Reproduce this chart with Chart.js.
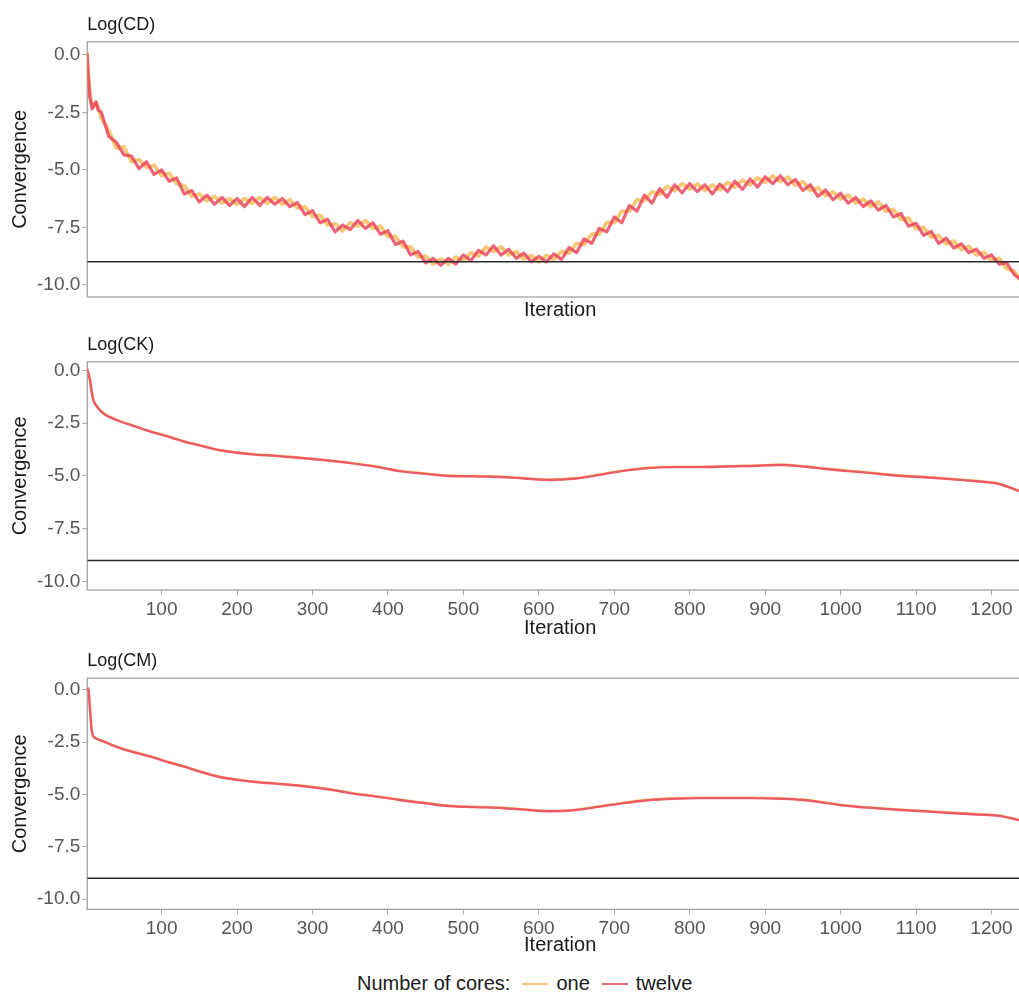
<!DOCTYPE html>
<html>
<head>
<meta charset="utf-8">
<script src="https://cdn.jsdelivr.net/npm/chart.js@4.4.0/dist/chart.umd.min.js"></script>
<style>
  html, body { margin: 0; padding: 0; background: #fff; overflow: hidden; }
  body { width: 1019px; height: 993px; position: relative; font-family: "Liberation Sans", Arial, sans-serif; }
  canvas { position: absolute; left: 0; }
  #legend { position: absolute; left: 357px; top: 972px; display: flex; align-items: center; font-size: 20px; color: #1a1a1a; white-space: nowrap; }
  #legend .key { display: inline-block; width: 26px; height: 2px; margin: 0 8px 0 12px; }
</style>
</head>
<body>
<canvas id="cd" width="1034" height="322" style="top:0"></canvas>
<canvas id="ck" width="1034" height="318" style="top:322px"></canvas>
<canvas id="cm" width="1034" height="317" style="top:640px"></canvas>
<div id="legend">
  <span>Number of cores:</span>
  <span class="key" id="key-one"></span><span>one</span>
  <span class="key" id="key-twelve"></span><span>twelve</span>
</div>
<script>
const THRESHOLD = -9;
const X_MIN = 1.5, X_MAX = 1255;
const xTicks = [100, 200, 300, 400, 500, 600, 700, 800, 900, 1000, 1100, 1200];
const yTicks = [0, -2.5, -5, -7.5, -10];

const ONE_COLOR = 'rgba(244, 192, 96, 0.85)';
const TWELVE_COLOR = 'rgba(232, 66, 90, 0.82)';

// Log(CD): early iterations, then every 10 iterations
const cdIter = [1, 3, 5, 8, 10, 13, 16];
for (let i = 20; i <= 1240; i += 10) cdIter.push(i);

const cdOne = [
  0.1, -0.9, -1.8, -2.25, -2.25, -2.1, -2.3,
  -2.75, -3.3, -4.05, -4.0, -4.65, -4.55, -4.9, -4.8, -5.25, -5.15,
  -5.6, -5.7, -6.15, -6.05, -6.35, -6.15, -6.45, -6.25, -6.5, -6.25,
  -6.45, -6.2, -6.45, -6.2, -6.5, -6.3, -6.67, -6.6, -7.03, -6.97,
  -7.4, -7.35, -7.65, -7.3, -7.45, -7.2, -7.55, -7.45, -7.9, -7.9,
  -8.35, -8.35, -8.8, -8.75, -9.1, -8.88, -9.1, -8.8, -8.95, -8.6,
  -8.75, -8.35, -8.55, -8.35, -8.7, -8.55, -8.87, -8.72, -9.0, -8.72,
  -8.9, -8.55, -8.63, -8.2, -8.25, -7.8, -7.8, -7.3, -7.3, -6.8,
  -6.8, -6.3, -6.35, -5.95, -6.07, -5.72, -5.9, -5.6, -5.85, -5.62,
  -5.9, -5.66, -5.87, -5.55, -5.75, -5.45, -5.65, -5.35, -5.55, -5.27,
  -5.51, -5.32, -5.67, -5.52, -5.9, -5.78, -6.13, -5.96, -6.27, -6.1,
  -6.45, -6.27, -6.6, -6.4, -6.8, -6.72, -7.15, -7.1, -7.57, -7.5,
  -7.93, -7.85, -8.22, -8.1, -8.47, -8.32, -8.7, -8.58, -8.95, -8.85,
  -9.3, -9.4, -9.85
];
const cdTwelve = [
  0.1, -1.0, -1.85, -2.35, -2.2, -2.05, -2.4,
  -2.5, -3.55, -3.8, -4.35, -4.4, -4.95, -4.65, -5.2, -5.0, -5.5,
  -5.35, -6.05, -5.9, -6.4, -6.1, -6.5, -6.2, -6.55, -6.25, -6.6,
  -6.2, -6.55, -6.2, -6.5, -6.25, -6.6, -6.42, -6.95, -6.78, -7.3,
  -7.15, -7.7, -7.4, -7.6, -7.2, -7.55, -7.3, -7.8, -7.65, -8.25,
  -8.1, -8.7, -8.55, -9.05, -8.85, -9.15, -8.85, -9.1, -8.7, -8.95,
  -8.5, -8.7, -8.3, -8.7, -8.45, -8.85, -8.62, -9.0, -8.76, -9.0,
  -8.65, -8.9, -8.38, -8.6, -8.0, -8.2, -7.55, -7.7, -7.05, -7.3,
  -6.55, -6.8, -6.1, -6.45, -5.82, -6.2, -5.65, -6.0, -5.6, -5.95,
  -5.65, -6.05, -5.62, -5.95, -5.5, -5.85, -5.4, -5.75, -5.3, -5.6,
  -5.26, -5.65, -5.42, -5.9, -5.65, -6.15, -5.88, -6.3, -6.02, -6.45,
  -6.2, -6.6, -6.35, -6.75, -6.55, -7.05, -6.9, -7.45, -7.32, -7.85,
  -7.68, -8.2, -7.97, -8.4, -8.22, -8.6, -8.45, -8.85, -8.7, -9.1,
  -9.05, -9.55, -9.8
];

// Log(CK) and Log(CM) share one iteration grid
const smoothIter = [1, 3, 5, 7, 9, 12, 15, 18, 25, 40, 60, 85, 110, 130, 150, 175, 200, 220, 250, 285,
  320, 350, 385, 415, 450, 480, 515, 550, 580, 615, 650, 680, 710, 745, 780, 815, 850, 880, 920, 950,
  980, 1010, 1045, 1080, 1110, 1145, 1180, 1210, 1236, 1255];

const ckTwelve = [0.1, -0.15, -0.45, -0.95, -1.35, -1.6, -1.75, -1.88, -2.1, -2.35, -2.6, -2.9, -3.15, -3.38, -3.55, -3.77, -3.9, -3.98, -4.05, -4.15,
  -4.27, -4.39, -4.57, -4.77, -4.9, -5.0, -5.02, -5.05, -5.12, -5.19, -5.12, -4.95, -4.77, -4.63, -4.58, -4.58, -4.55, -4.53, -4.48, -4.55,
  -4.67, -4.77, -4.88, -5.0, -5.06, -5.15, -5.25, -5.38, -5.71, -5.9];
const ckOne = [0.1, -0.12, -0.4, -0.9, -1.3, -1.57, -1.73, -1.86, -2.07, -2.33, -2.58, -2.88, -3.13, -3.36, -3.53, -3.75, -3.88, -3.96, -4.03, -4.13,
  -4.25, -4.37, -4.55, -4.75, -4.88, -4.98, -5.0, -5.03, -5.1, -5.17, -5.1, -4.93, -4.75, -4.61, -4.56, -4.56, -4.53, -4.51, -4.46, -4.53,
  -4.65, -4.75, -4.86, -4.98, -5.04, -5.13, -5.23, -5.36, -5.69, -5.88];

const cmTwelve = [0.1, 0.0, -0.9, -1.82, -2.2, -2.3, -2.36, -2.4, -2.5, -2.72, -2.95, -3.19, -3.47, -3.67, -3.9, -4.15, -4.3, -4.39, -4.48, -4.59,
  -4.75, -4.93, -5.1, -5.26, -5.42, -5.55, -5.6, -5.64, -5.72, -5.8, -5.74, -5.58, -5.42, -5.27, -5.2, -5.17, -5.17, -5.17, -5.2, -5.26,
  -5.4, -5.55, -5.65, -5.74, -5.8, -5.88, -5.95, -6.02, -6.22, -6.35];
const cmOne = [0.1, 0.02, -0.85, -1.78, -2.17, -2.28, -2.34, -2.38, -2.48, -2.7, -2.93, -3.17, -3.45, -3.65, -3.88, -4.13, -4.28, -4.37, -4.46, -4.57,
  -4.73, -4.91, -5.08, -5.24, -5.4, -5.53, -5.58, -5.62, -5.7, -5.78, -5.72, -5.56, -5.4, -5.25, -5.18, -5.15, -5.15, -5.15, -5.18, -5.24,
  -5.38, -5.53, -5.63, -5.72, -5.78, -5.86, -5.93, -6.0, -6.2, -6.33];

const FONT = '"Liberation Sans", Arial, sans-serif';
const FRAME = '#a8a8a8';

document.getElementById('key-one').style.background = ONE_COLOR;
document.getElementById('key-twelve').style.background = TWELVE_COLOR;

const pts = (xs, ys) => xs.map((x, i) => ({ x: x, y: ys[i] }));

// panel border plus the strip title above it
const panelFrame = {
  id: 'panelFrame',
  beforeDatasetsDraw(chart, args, opts) {
    const { ctx, chartArea: a } = chart;
    ctx.save();
    ctx.strokeStyle = FRAME;
    ctx.lineWidth = 1.4;
    ctx.strokeRect(a.left, a.top, a.right - a.left, a.bottom - a.top);
    ctx.fillStyle = '#1a1a1a';
    ctx.font = '18px ' + FONT;
    ctx.textBaseline = 'middle';
    ctx.textAlign = 'left';
    ctx.fillText(opts.title, a.left, a.top - 17);
    ctx.restore();
  }
};

function makePanel(id, p) {
  const lineW = p.smooth ? 2.4 : 3.2;
  return new Chart(document.getElementById(id), {
    type: 'line',
    data: {
      datasets: [
        { label: 'one', order: 2, data: pts(p.iter, p.one), borderColor: ONE_COLOR,
          borderWidth: p.smooth ? lineW : lineW + 0.6,
          cubicInterpolationMode: p.smooth ? 'monotone' : 'default', borderJoinStyle: 'round' },
        { label: 'twelve', order: 1, data: pts(p.iter, p.twelve), borderColor: TWELVE_COLOR, borderWidth: lineW,
          cubicInterpolationMode: p.smooth ? 'monotone' : 'default', borderJoinStyle: 'round' },
        { label: 'threshold', order: 0, data: [{ x: X_MIN, y: THRESHOLD }, { x: X_MAX, y: THRESHOLD }],
          borderColor: '#2b2b2b', borderWidth: 1.6 }
      ]
    },
    options: {
      responsive: false,
      animation: false,
      devicePixelRatio: 1,
      layout: { padding: { top: p.top, right: 1, left: 0, bottom: 0 } },
      elements: { point: { radius: 0 }, line: { tension: 0 } },
      plugins: {
        legend: { display: false },
        tooltip: { enabled: false },
        panelFrame: { title: p.title }
      },
      scales: {
        x: {
          type: 'linear', min: X_MIN, max: X_MAX,
          afterBuildTicks: s => { s.ticks = p.showX ? xTicks.map(v => ({ value: v })) : []; },
          afterFit: s => { s.height = p.xHeight; },
          ticks: { display: p.showX, color: '#555', font: { family: FONT, size: 19 }, padding: 3, maxRotation: 0,
            callback: v => String(v) },
          grid: { drawOnChartArea: false, drawTicks: p.showX, tickLength: 5, color: FRAME },
          border: { display: false },
          title: { display: true, text: 'Iteration', color: '#1a1a1a', font: { family: FONT, size: 20 }, padding: 0 }
        },
        y: {
          min: p.yMin, max: p.yMax,
          afterBuildTicks: s => { s.ticks = yTicks.map(v => ({ value: v })); },
          afterFit: s => { s.width = 87.3; },
          ticks: { color: '#555', font: { family: FONT, size: 19 }, padding: 2, callback: v => v.toFixed(1) },
          grid: { drawOnChartArea: false, tickLength: 5, color: FRAME },
          border: { display: false },
          title: { display: true, text: 'Convergence', color: '#1a1a1a', font: { family: FONT, size: 20 }, padding: { top: 8, bottom: 0 } }
        }
      }
    },
    plugins: [panelFrame]
  });
}

makePanel('cd', { title: 'Log(CD)', iter: cdIter, one: cdOne, twelve: cdTwelve, smooth: false,
  top: 41.7, xHeight: 25, showX: false, yMin: -10.53, yMax: 0.57 });
makePanel('ck', { title: 'Log(CK)', iter: smoothIter, one: ckOne, twelve: ckTwelve, smooth: true,
  top: 39.7, xHeight: 50, showX: true, yMin: -10.4, yMax: 0.41 });
makePanel('cm', { title: 'Log(CM)', iter: smoothIter, one: cmOne, twelve: cmTwelve, smooth: true,
  top: 38.3, xHeight: 47.7, showX: true, yMin: -10.48, yMax: 0.55 });
</script>
</body>
</html>
